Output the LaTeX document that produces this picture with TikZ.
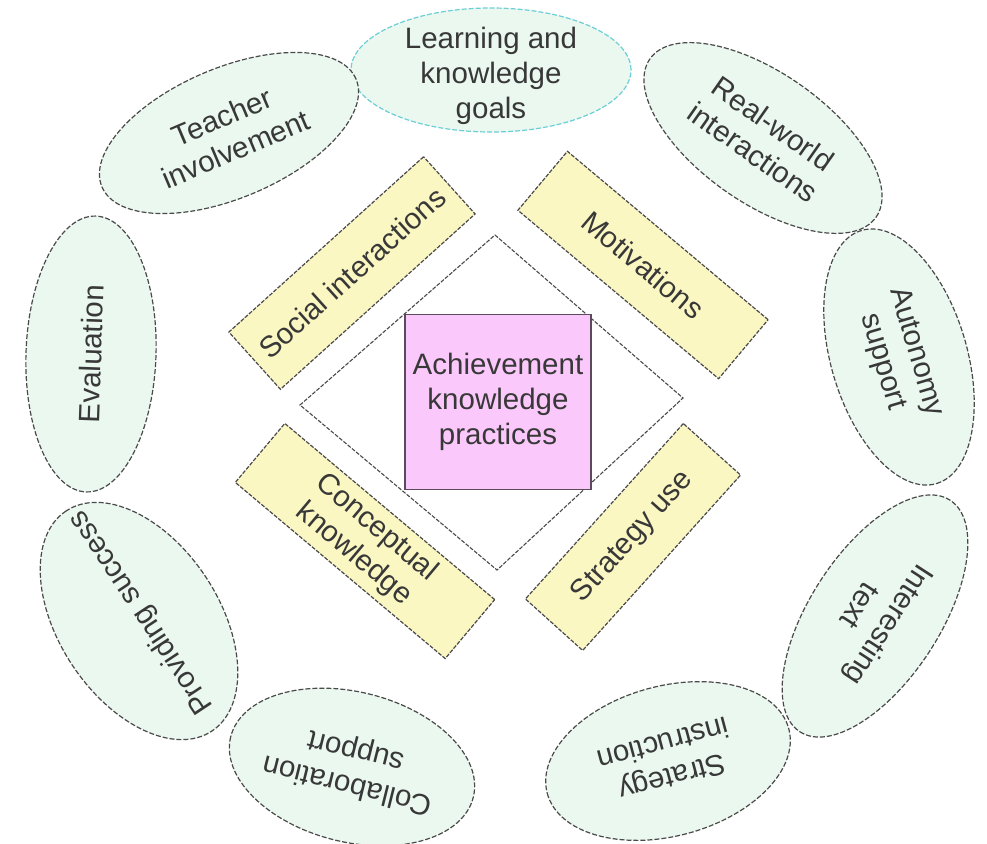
\documentclass[tikz,border=0pt]{standalone}
\usepackage{fontspec}
\setmainfont{Liberation Sans}
\usetikzlibrary{shapes.geometric}
\definecolor{mint}{HTML}{EAF8EF}
\definecolor{yel}{HTML}{FBF7C3}
\definecolor{corefill}{HTML}{FAC8FA}
\definecolor{edge}{HTML}{4A4A4A}
\definecolor{coreedge}{HTML}{5A4A5A}
\definecolor{cyanedge}{HTML}{6CCFD6}
\definecolor{txt}{HTML}{383838}
\begin{document}
\begin{tikzpicture}[x=1pt,y=-1pt,
  every node/.style={font=\fontsize{29.5}{35}\selectfont, text=txt, align=center},
  oval/.style={ellipse, draw=edge, fill=mint, line width=1.2pt, dash pattern=on 5pt off 2pt,
    minimum width=276pt, minimum height=130pt, inner sep=0pt},
  lbl/.style={inner sep=0pt},
  topic/.style={rectangle, draw=edge, fill=yel, line width=1.2pt, dash pattern=on 4pt off 1.5pt,
    minimum width=262pt, minimum height=77pt, inner sep=0pt},
  core/.style={rectangle, draw=coreedge, fill=corefill, line width=1.5pt,
    minimum width=186pt, minimum height=175pt, inner sep=0pt},
  frame/.style={draw=edge, fill=white, line width=1.1pt, dash pattern=on 4pt off 1.5pt}]
\useasboundingbox[fill=white] (0,0) rectangle (987,843);

% outer ring of ellipses (shape) and their texts
\node[oval, draw=cyanedge, minimum width=280pt, minimum height=124pt] (goals) at (491,70) {};
\node[lbl] (goals-t) at (491,76) {Learning and\\knowledge\\goals};

\node[oval, rotate=-35] (real) at (763,138) {};
\node[lbl, rotate=-35] (real-t) at (real) {Real-world\\interactions};

\node[oval, rotate=-73.5, minimum width=264pt, minimum height=136pt] (auto) at (899,357) {};
\node[lbl, rotate=-73.5] (auto-t) at (auto) {Autonomy\\support};

\node[oval, rotate=-123] (inter) at (875,616) {};
\node[lbl, rotate=-123] (inter-t) at (inter) {Interesting\\text};

\node[oval, rotate=-165, minimum width=250pt, minimum height=150pt] (strat) at (668,761) {};
\node[lbl, rotate=-165] (strat-t) at (strat) {Strategy\\instruction};

\node[oval, rotate=166, minimum width=250pt, minimum height=150pt] (collab) at (352,767) {};
\node[lbl, rotate=166] (collab-t) at (collab) {Collaboration\\support};

\node[oval, rotate=123.5, minimum width=264pt, minimum height=160pt] (prov) at (139,621) {};
\node[lbl, rotate=123.5] (prov-t) at (142,612) {Providing success};

\node[oval, rotate=88] (eval) at (91,354) {};
\node[lbl, rotate=88] (eval-t) at (eval) {Evaluation};

\node[oval, rotate=23] (teach) at (229,133) {};
\node[lbl, rotate=23] (teach-t) at (teach) {Teacher\\involvement};

% central diamond
\coordinate (dt) at (495,235);
\coordinate (dr) at (683,398);
\coordinate (db) at (497,570);
\coordinate (dl) at (300,405);
\draw[frame] (dt) -- (dr) -- (db) -- (dl) -- cycle;

% inner boxes
\node[topic, rotate=42] (social) at (352,273) {Social interactions};
\node[topic, rotate=-40] (motiv) at (643,265) {Motivations};
\node[topic, rotate=-40, minimum width=274pt] (concept) at (365,541) {Conceptual\\knowledge};
\node[topic, rotate=48, minimum width=236pt] (stratuse) at (633,537) {Strategy use};

% core
\node[core] (core) at (498,402) {Achievement\\knowledge\\practices};
\end{tikzpicture}
\end{document}
